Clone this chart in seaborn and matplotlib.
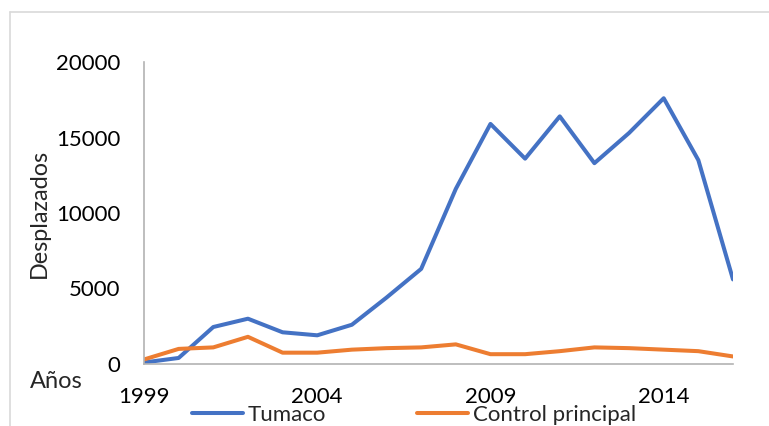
import matplotlib
matplotlib.use("Agg")
import matplotlib.pyplot as plt
import seaborn as sns
import pandas as pd
from matplotlib.lines import Line2D

years = list(range(1999, 2017))
tumaco = [100, 400, 2450, 3000, 2100, 1900, 2600, 4400, 6300, 11600,
          15900, 13600, 16400, 13300, 15300, 17600, 13500, 5600]
control = [300, 1000, 1100, 1800, 750, 750, 950, 1050, 1100, 1300,
           650, 650, 850, 1100, 1050, 950, 850, 500]
series_names = ["Tumaco", "Control principal"]
colors = ["#4472C4", "#ED7D31"]
xticks = [1999, 2004, 2009, 2014]
yticks = [0, 5000, 10000, 15000, 20000]

df = pd.DataFrame({
    "Año": years * 2,
    "Desplazados": tumaco + control,
    "Serie": [series_names[0]] * len(years) + [series_names[1]] * len(years),
})

sns.set_theme(style="white")
plt.rcParams["font.family"] = ["Lato", "DejaVu Sans"]

fig = plt.figure(figsize=(7.69, 4.26), dpi=100)
ax = fig.add_axes([144 / 769, 1 - 364 / 426, (733 - 144) / 769, (364 - 62) / 426])

sns.lineplot(data=df, x="Año", y="Desplazados", hue="Serie",
             palette=dict(zip(series_names, colors)), linewidth=2.9,
             ax=ax, legend=False)

ax.set_xlim(1999, 2016)
ax.set_ylim(0, 20000)
ax.set_xticks(xticks)
ax.set_yticks(yticks)
ax.tick_params(axis="both", length=0, labelsize=16, colors="black")
ax.tick_params(axis="y", pad=17)
ax.tick_params(axis="x", pad=16.5)
ax.set_xlabel("")
ax.set_ylabel("Desplazados", fontsize=16.8)
ax.yaxis.set_label_coords(-0.16, 0.5)
for s in ["top", "right"]:
    ax.spines[s].set_visible(False)
for s in ["left", "bottom"]:
    ax.spines[s].set_color("#b3b3b3")
    ax.spines[s].set_linewidth(1.2)
ax.grid(False)

fig.text(30 / 769, 1 - 382 / 426, "Años", fontsize=17, va="center", ha="left")

# chart frame (left and top edges)
fig.add_artist(Line2D([9.5 / 769, 9.5 / 769], [0, 1 - 12 / 426], color="#d9d9d9",
                      linewidth=1.2, transform=fig.transFigure))
fig.add_artist(Line2D([9.5 / 769, 1], [1 - 12 / 426, 1 - 12 / 426], color="#d9d9d9",
                      linewidth=1.2, transform=fig.transFigure))

handles = [Line2D([0], [0], color=c, linewidth=2.9) for c in colors]
fig.legend(handles, series_names, loc="center left",
           bbox_to_anchor=(192 / 769, 1 - 415 / 426), ncol=2, frameon=False,
           fontsize=16, handlelength=2.3, handletextpad=0.2,
           columnspacing=4.1, borderaxespad=0, borderpad=0)

fig.savefig("out.png", dpi=100, facecolor="white")
